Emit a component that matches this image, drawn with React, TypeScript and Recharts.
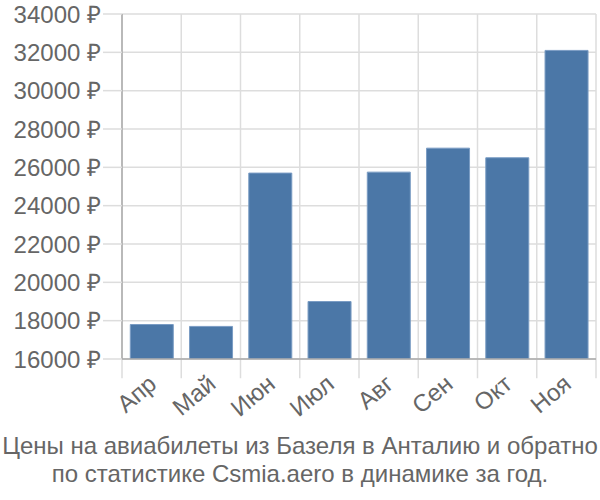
import { BarChart, Bar, XAxis, YAxis, CartesianGrid, ReferenceLine } from 'recharts';

const months = ['Апр', 'Май', 'Июн', 'Июл', 'Авг', 'Сен', 'Окт', 'Ноя'];
const prices = [17800, 17700, 25700, 19000, 25750, 27000, 26500, 32100];
const yTicks = [16000, 18000, 20000, 22000, 24000, 26000, 28000, 30000, 32000, 34000];
const bandEdges = [0, 1, 2, 3, 4, 5, 6, 7, 8];
const titleLines = [
  'Цены на авиабилеты из Базеля в Анталию и обратно',
  'по статистике Csmia.aero в динамике за год.',
];

const data = months.map((m, i) => ({ month: m, price: prices[i], pos: i + 0.5 }));

const font = '"Liberation Sans", Arial, sans-serif';

const MonthTick = (props: any) => {
  const { x, y, payload } = props;
  return (
    <text
      x={x}
      y={y}
      dx={-5}
      dy={16}
      textAnchor="end"
      fill="#666"
      fontSize={24}
      fontFamily={font}
      transform={`rotate(-40, ${x}, ${y})`}
    >
      {payload.value}
    </text>
  );
};

export default function App() {
  return (
    <div style={{ position: 'absolute', left: 0, top: 0, width: 600, height: 500, background: '#fff' }}>
      <BarChart
        width={600}
        height={420}
        data={data}
        margin={{ top: 14, right: 4, left: 0, bottom: 0 }}
        barCategoryGap="14%"
      >
        <CartesianGrid stroke="#dddddd" strokeWidth={1.5} vertical={false} />
        <XAxis
          xAxisId="grid"
          type="number"
          dataKey="pos"
          domain={[0, 8]}
          ticks={bandEdges}
          hide
        />
        {bandEdges.map((e) => (
          <ReferenceLine
            key={e}
            xAxisId="grid"
            segment={[
              { x: e, y: 34000 },
              { x: e, y: 15000 },
            ]}
            stroke="#dddddd"
            strokeWidth={1.5}
            ifOverflow="visible"
          />
        ))}
        <XAxis
          dataKey="month"
          height={61}
          tickLine={false}
          tickSize={10}
          axisLine={{ stroke: '#aaaaaa', strokeWidth: 1.5 }}
          tick={<MonthTick />}
          interval={0}
        />
        <YAxis
          width={122}
          domain={[16000, 34000]}
          ticks={yTicks}
          interval={0}
          tickSize={19}
          tickMargin={2}
          tickLine={{ stroke: '#dddddd', strokeWidth: 1.5 }}
          axisLine={{ stroke: '#aaaaaa', strokeWidth: 1.5 }}
          tick={{ fill: '#666', fontSize: 24, fontFamily: font }}
          tickFormatter={(v) => `${v} ₽`}
          allowDataOverflow
        />
        <Bar
          dataKey="price"
          fill="#4b77a7"
          stroke="#7a9cc4"
          strokeWidth={1}
          isAnimationActive={false}
        />
      </BarChart>
      <div
        style={{
          fontFamily: font,
          fontSize: 24,
          color: '#666',
          textAlign: 'center',
          lineHeight: '28px',
          marginTop: 12,
          whiteSpace: 'nowrap',
        }}
      >
        {titleLines.map((t) => (
          <div key={t}>{t}</div>
        ))}
      </div>
    </div>
  );
}
